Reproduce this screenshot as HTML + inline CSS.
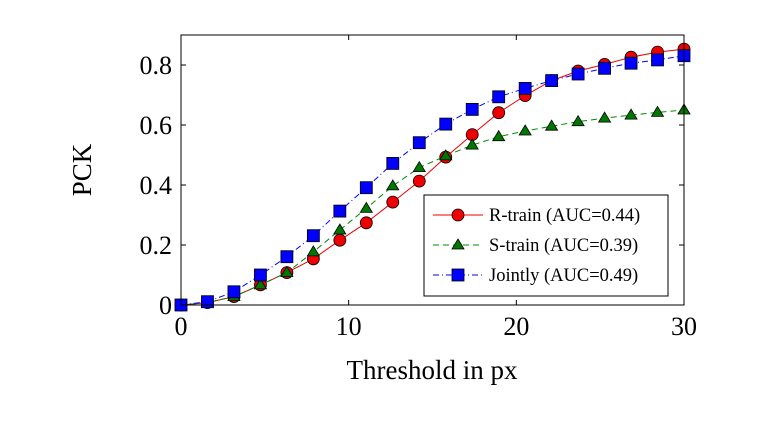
<!DOCTYPE html>
<html><head><meta charset="utf-8"><style>
body{margin:0;background:#fff;}
svg text{font-family:"Liberation Serif",serif;fill:#000;}
</style></head><body>
<svg id="chart" width="757" height="424" viewBox="0 0 757 424">
<g id="ticks"></g>
<g id="series"></g>
<rect x="181" y="35" width="503" height="270" fill="none" stroke="#000" stroke-width="1"/>
<text x="432" y="379" font-size="27" text-anchor="middle">Threshold in px</text>
<text transform="translate(91,170) rotate(-90)" font-size="27" text-anchor="middle">PCK</text>
<g>
<rect x="424" y="195" width="244" height="101" fill="#fff" stroke="#000"/>
<g>
<line x1="433" y1="215" x2="483" y2="215" stroke="#e00" stroke-width="1"/>
<circle cx="458" cy="215" r="6" fill="#e00" stroke="#000" stroke-width="0.8"/>
<text x="489" y="221" font-size="18.5">R-train (AUC=0.44)</text></g>
<g>
<line x1="433" y1="245" x2="483" y2="245" stroke="#080" stroke-width="1" stroke-dasharray="6,4"/>
<polygon points="458,239 464,249 452,249" fill="#070" stroke="#000" stroke-width="0.8"/>
<text x="489" y="251" font-size="18.5">S-train (AUC=0.39)</text></g>
<g>
<line x1="433" y1="275" x2="483" y2="275" stroke="#00f" stroke-width="1" stroke-dasharray="6,3,1,3"/>
<rect x="452" y="269" width="12" height="12" fill="#00f" stroke="#000" stroke-width="0.8"/>
<text x="489" y="281" font-size="18.5">Jointly (AUC=0.49)</text></g>
</g>
</svg>
<script>
const xs = Array.from({length:20},(_,i)=>i*30/19);
const rTrain = [0,0.008,0.028,0.067,0.108,0.154,0.216,0.274,0.343,0.413,0.493,0.568,0.641,0.698,0.748,0.780,0.802,0.826,0.843,0.853];
const sTrain = [0,0.008,0.028,0.067,0.108,0.177,0.250,0.322,0.397,0.458,0.497,0.533,0.561,0.580,0.596,0.611,0.623,0.633,0.642,0.650];
const jointly = [0,0.011,0.044,0.100,0.161,0.231,0.313,0.391,0.472,0.541,0.603,0.652,0.694,0.722,0.748,0.770,0.789,0.806,0.817,0.831];
const xTicks = [0,10,20,30];
const yTicks = [0,0.2,0.4,0.6,0.8];
const yTickLabels = ["0","0.2","0.4","0.6","0.8"];
const NS="http://www.w3.org/2000/svg";
const X=v=>181+v*(503/30), Y=v=>305-v*(240/0.8);
function mk(t,a,p){const e=document.createElementNS(NS,t);for(const k in a)e.setAttribute(k,a[k]);p.appendChild(e);return e;}
const tg=document.getElementById('ticks');
xTicks.forEach(v=>{
 mk('line',{x1:X(v),x2:X(v),y1:305,y2:300,stroke:'#000'},tg);
 mk('line',{x1:X(v),x2:X(v),y1:35,y2:40,stroke:'#000'},tg);
 const t=mk('text',{x:X(v),y:335,'font-size':26,'text-anchor':'middle'},tg);t.textContent=v;
 
 
});
yTicks.forEach((v,i)=>{
 mk('line',{x1:181,x2:186,y1:Y(v),y2:Y(v),stroke:'#000'},tg);
 mk('line',{x1:684,x2:679,y1:Y(v),y2:Y(v),stroke:'#000'},tg);
 const t=mk('text',{x:172,y:Y(v)+9,'font-size':26,'text-anchor':'end'},tg);t.textContent=yTickLabels[i];
 
 
});
const sg=document.getElementById('series');
function series(vals,color,dash,marker,name){
 const g=mk('g',{},sg);
 
 
 mk('polyline',{points:vals.map((v,i)=>X(xs[i])+','+Y(v)).join(' '),fill:'none',stroke:color,'stroke-width':1,'stroke-dasharray':dash},g);
 vals.forEach((v,i)=>{
  const x=X(xs[i]),y=Y(v);let m;
  if(marker==='c')m=mk('circle',{cx:x,cy:y,r:6,fill:color,stroke:'#000','stroke-width':0.8},g);
  else if(marker==='t')m=mk('polygon',{points:`${x},${y-6} ${x+6},${y+4} ${x-6},${y+4}`,fill:'#070',stroke:'#000','stroke-width':0.8},g);
  else m=mk('rect',{x:x-6,y:y-6,width:12,height:12,fill:color,stroke:'#000','stroke-width':0.8},g);
  
  
 });
}
series(rTrain,'#e00','','c','series-r-train');
series(sTrain,'#080','6,4','t','series-s-train');
series(jointly,'#00f','6,3,1,3','s','series-jointly');
</script>
</body></html>
